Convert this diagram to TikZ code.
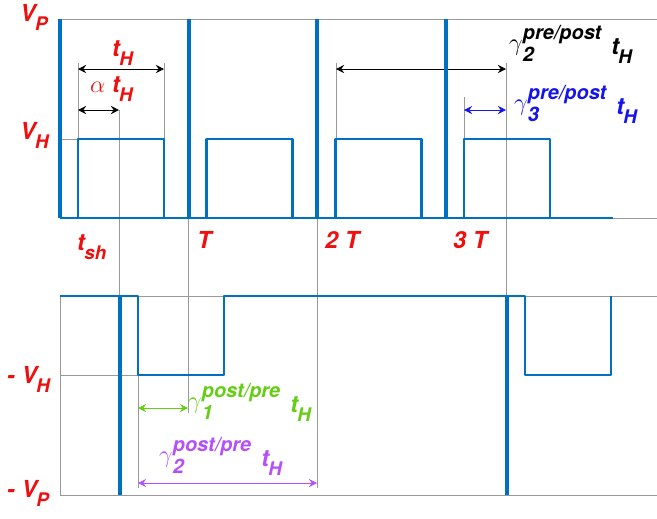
\documentclass[tikz,border=0pt]{standalone}
\usepackage{fontspec}
\setmainfont{TeX Gyre Heros}
\usetikzlibrary{arrows.meta}
\definecolor{waveblue}{RGB}{0,112,192}
\definecolor{labred}{RGB}{240,15,15}
\definecolor{labgreen}{RGB}{100,205,20}
\definecolor{labpurple}{RGB}{180,80,250}
\definecolor{labblue}{RGB}{20,20,235}
\newcommand{\lowered}[1]{\kern-0.03em\raisebox{-0.42em}{\fontsize{16}{16}\selectfont #1}}
\newcommand{\gammalabel}[2]{\raisebox{0.15em}{$\gamma$}\rlap{\raisebox{-0.3em}{\fontsize{17}{17}\selectfont #1}}\raisebox{0.6em}{\fontsize{17}{17}\selectfont #2}\hspace{0.15em}}

\begin{document}
\begin{tikzpicture}[x=0.03cm,y=-0.03cm,
  wavestyle/.style={waveblue,line width=2.1pt,line join=round},
  spikestyle/.style={waveblue,line width=3.3pt},
  guidestyle/.style={gray!80,line width=0.5pt},
  arrowstyle/.style={line width=0.6pt,{Stealth[length=7pt,width=7pt,inset=2.5pt]}-{Stealth[length=7pt,width=7pt,inset=2.5pt]}},
  labelstyle/.style={anchor=base west,inner sep=0pt,font=\fontsize{20}{20}\selectfont\bfseries\itshape}]
 \useasboundingbox (0,0) rectangle (657,518);

 % guide lines
 \draw[guidestyle] (60,19) -- (657,19) (60,218) -- (657,218) (60,139) -- (78,139);
 \draw[guidestyle] (60,296) -- (657,296) (60,495) -- (657,495)
                   (60,296) -- (60,495) (60,375) -- (138,375);
 \foreach \x/\ya/\yb in {78/63/139, 164/63/139, 119/110/495, 188/218/413, 317/218/488,
                         336/63/139, 464/97/139, 506/63/296, 138/375/488}
   \draw[guidestyle] (\x,\ya) -- (\x,\yb);

 % widths
 \coordinate (tH-a) at (78,69);    \coordinate (tH-b) at (164,69);
 \coordinate (atH-a) at (78,110);  \coordinate (atH-b) at (119,110);
 \coordinate (gtwo-a) at (336,69); \coordinate (gtwo-b) at (506,69);
 \coordinate (gthree-a) at (464,110); \coordinate (gthree-b) at (506,110);
 \coordinate (gone-a) at (138,408);  \coordinate (gone-b) at (188,408);
 \coordinate (gpost-a) at (138,483); \coordinate (gpost-b) at (317,483);
 \draw[arrowstyle] (tH-a) -- (tH-b);
 \draw[arrowstyle] (atH-a) -- (atH-b);
 \draw[arrowstyle] (gtwo-a) -- (gtwo-b);
 \draw[arrowstyle,labblue] (gthree-a) -- (gthree-b);
 \draw[arrowstyle,labgreen] (gone-a) -- (gone-b);
 \draw[arrowstyle,labpurple] (gpost-a) -- (gpost-b);

 % upper train
 \draw[wavestyle] (60,218) -- (613,218);
 \foreach \k in {0,...,3}
   {\pgfmathsetmacro{\xs}{60+128.67*\k}
   \draw[wavestyle] (\xs+18,218) -- (\xs+18,139) -- (\xs+104,139) -- (\xs+104,218);
   \draw[spikestyle] (\xs,19) -- (\xs,218);}

 % lower train
 \draw[wavestyle] (60,296) -- (138,296) -- (138,375) -- (224,375) -- (224,296)
                  -- (525,296) -- (525,375) -- (611,375) -- (611,296);
 \foreach \x in {120,507}
   \draw[spikestyle] (\x,296) -- (\x,495);

 % labels
 \node[labelstyle,text=labred] (vp) at (20,21) {V\lowered{P}};
 \node[labelstyle,text=labred] (vh) at (20,139) {V\lowered{H}};
 \node[labelstyle,text=labred] (th) at (112,56) {t\lowered{H}};
 \node[labelstyle,text=labred] (ath) at (90,92) {$\alpha$ t\lowered{H}};
 \node[labelstyle,text=labred] (tsh) at (77,250) {t\lowered{sh}};
 \node[labelstyle,text=labred] (tone) at (197,248) {T};
 \node[labelstyle,text=labred] (ttwo) at (325,248) {2 T};
 \node[labelstyle,text=labred] (tthree) at (453,248) {3 T};
 \node[labelstyle] (gtwopre) at (509,54) {\gammalabel{2}{pre/post} t\lowered{H}};
 \node[labelstyle,text=labblue] (gthreepre) at (514,114) {\gammalabel{3}{pre/post} t\lowered{H}};
 \node[labelstyle,text=labgreen] (gonepost) at (188,412) {\gammalabel{1}{post/pre} t\lowered{H}};
 \node[labelstyle,text=labpurple] (gtwopost) at (159,466) {\gammalabel{2}{post/pre} t\lowered{H}};
 \node[labelstyle,text=labred] (mvh) at (7,383) {- V\lowered{H}};
 \node[labelstyle,text=labred] (mvp) at (7,497) {- V\lowered{P}};
\end{tikzpicture}
\end{document}
